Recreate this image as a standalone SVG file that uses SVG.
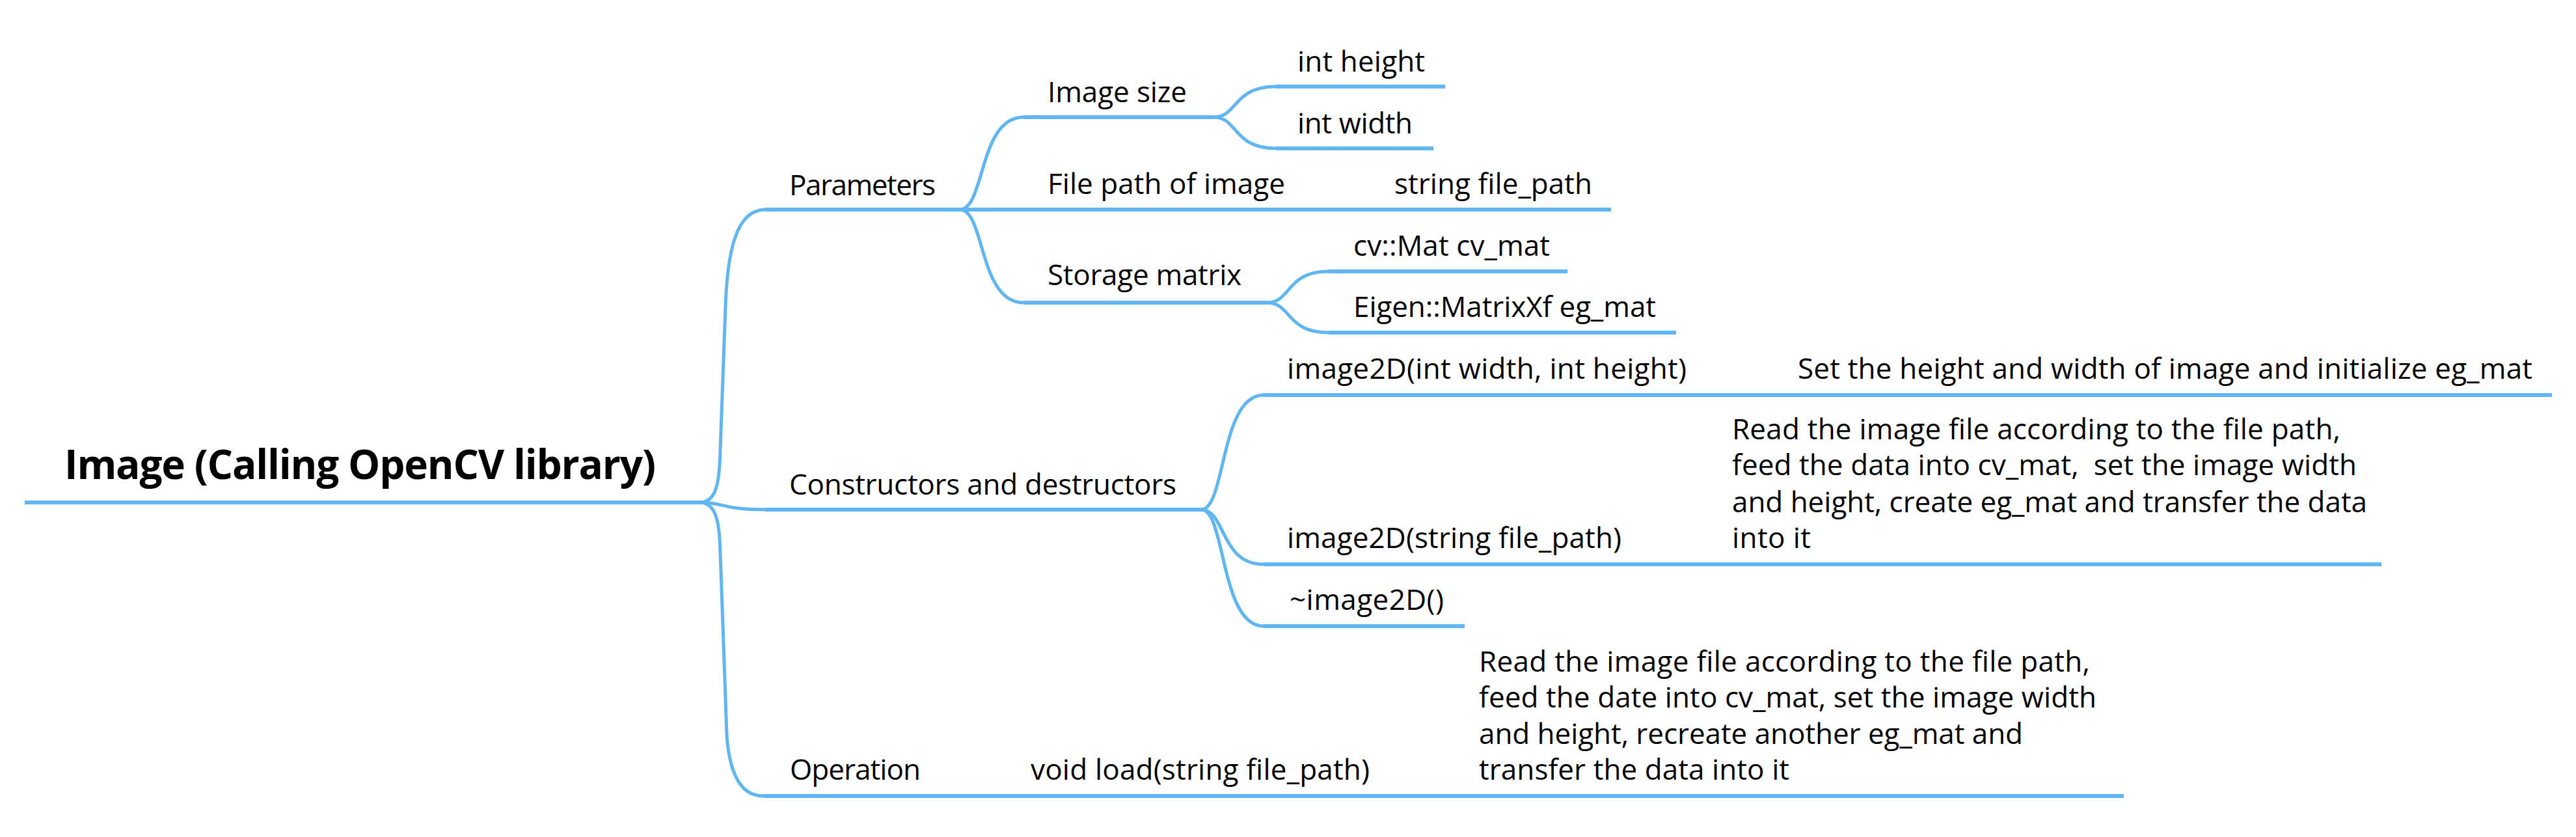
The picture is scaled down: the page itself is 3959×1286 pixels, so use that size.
<svg xmlns="http://www.w3.org/2000/svg" width="3959" height="1286" viewBox="0 0 3959 1286">
<style>
.t{font-family:"Open Sans","Noto Sans","DejaVu Sans",sans-serif;font-size:44px;fill:#000}
.root{font-family:"Open Sans","Noto Sans","DejaVu Sans",sans-serif;font-size:62px;font-weight:bold;fill:#000}
.c{fill:none;stroke:#60b6f1;stroke-width:5;stroke-linejoin:round}
.u{fill:none;stroke:#60b6f1;stroke-width:6}
</style>
<rect width="3959" height="1286" fill="#fff"/>
<g id="connectors">
<path class="c" d="M1075 772 C1100 772 1106 745 1107 690 L1115 470 C1118 390 1130 322 1176 322"/>
<path class="c" d="M1075 772 C1116 772 1106 783 1177 783"/>
<path class="c" d="M1075 772 C1100 772 1106 800 1107 850 L1117 1130 C1122 1200 1145 1223 1173 1223"/>
<path class="c" d="M1475 322 C1514 322 1504 180 1573 180"/>
<path class="c" d="M1475 322 C1514 322 1504 465 1573 465"/>
<path class="c" d="M1865 180 C1903 180 1894 133 1961 133"/>
<path class="c" d="M1865 180 C1903 180 1894 228 1961 228"/>
<path class="c" d="M1947 465 C1985 465 1976 417 2042 417"/>
<path class="c" d="M1947 465 C1985 465 1976 511 2042 511"/>
<path class="c" d="M1846 783 C1884 783 1875 607 1942 607"/>
<path class="c" d="M1846 783 C1884 783 1875 867 1942 867"/>
<path class="c" d="M1846 783 C1884 783 1875 962 1942 962"/>
</g>
<g id="root">
<line class="u" x1="38" y1="772" x2="1075" y2="772"/>
<text class="root" x="99" y="736" textLength="909">Image (Calling OpenCV library)</text>
</g>
<g id="parameters">
<line class="u" x1="1176" y1="322" x2="1475" y2="322"/>
<text class="t" x="1213" y="300" textLength="225">Parameters</text>
</g>
<g id="image-size">
<line class="u" x1="1573" y1="180" x2="1865" y2="180"/>
<text class="t" x="1610" y="157" textLength="214">Image size</text>
</g>
<g id="int-height">
<line class="u" x1="1961" y1="133" x2="2221" y2="133"/>
<text class="t" x="1994" y="110" textLength="196">int height</text>
</g>
<g id="int-width">
<line class="u" x1="1961" y1="228" x2="2203" y2="228"/>
<text class="t" x="1994" y="205" textLength="177">int width</text>
</g>
<g id="file-path">
<line class="u" x1="1475" y1="322" x2="2106" y2="322"/>
<text class="t" x="1610" y="298" textLength="365">File path of image</text>
</g>
<g id="string-file-path">
<line class="u" x1="2106" y1="322" x2="2476" y2="322"/>
<text class="t" x="2143" y="298" textLength="304">string file_path</text>
</g>
<g id="storage-matrix">
<line class="u" x1="1573" y1="465" x2="1947" y2="465"/>
<text class="t" x="1610" y="438" textLength="298">Storage matrix</text>
</g>
<g id="cv-mat">
<line class="u" x1="2042" y1="417" x2="2409" y2="417"/>
<text class="t" x="2080" y="393" textLength="302">cv::Mat cv_mat</text>
</g>
<g id="eigen-mat">
<line class="u" x1="2042" y1="511" x2="2576" y2="511"/>
<text class="t" x="2080" y="487" textLength="465">Eigen::MatrixXf eg_mat</text>
</g>
<g id="constructors">
<line class="u" x1="1177" y1="783" x2="1846" y2="783"/>
<text class="t" x="1213" y="760" textLength="595">Constructors and destructors</text>
</g>
<g id="image2d-int">
<line class="u" x1="1942" y1="607" x2="2726" y2="607"/>
<text class="t" x="1978" y="582" textLength="614">image2D(int width, int height)</text>
</g>
<g id="image2d-int-desc">
<line class="u" x1="2726" y1="607" x2="3922" y2="607"/>
<text class="t" x="2763" y="582" textLength="1129">Set the height and width of image and initialize eg_mat</text>
</g>
<g id="image2d-string">
<line class="u" x1="1942" y1="867" x2="2625" y2="867"/>
<text class="t" x="1978" y="842" textLength="514">image2D(string file_path)</text>
</g>
<g id="image2d-string-desc">
<line class="u" x1="2625" y1="867" x2="3660" y2="867"/>
<text class="t" x="2662" y="675" textLength="935">Read the image file according to the file path,</text>
<text class="t" x="2662" y="730" textLength="960" xml:space="preserve">feed the data into cv_mat,  set the image width</text>
<text class="t" x="2662" y="787" textLength="976">and height, create eg_mat and transfer the data</text>
<text class="t" x="2662" y="842" textLength="121">into it</text>
</g>
<g id="destructor">
<line class="u" x1="1942" y1="962" x2="2251" y2="962"/>
<text class="t" x="1982" y="937" textLength="237">~image2D()</text>
</g>
<g id="operation">
<line class="u" x1="1173" y1="1223" x2="1547" y2="1223"/>
<text class="t" x="1214" y="1198" textLength="201">Operation</text>
</g>
<g id="void-load">
<line class="u" x1="1547" y1="1223" x2="2236" y2="1223"/>
<text class="t" x="1584" y="1198" textLength="521">void load(string file_path)</text>
</g>
<g id="void-load-desc">
<line class="u" x1="2236" y1="1223" x2="3264" y2="1223"/>
<text class="t" x="2273" y="1032" textLength="939">Read the image file according to the file path,</text>
<text class="t" x="2273" y="1087" textLength="949">feed the date into cv_mat, set the image width</text>
<text class="t" x="2273" y="1143" textLength="836">and height, recreate another eg_mat and</text>
<text class="t" x="2273" y="1198" textLength="477">transfer the data into it</text>
</g>
</svg>
